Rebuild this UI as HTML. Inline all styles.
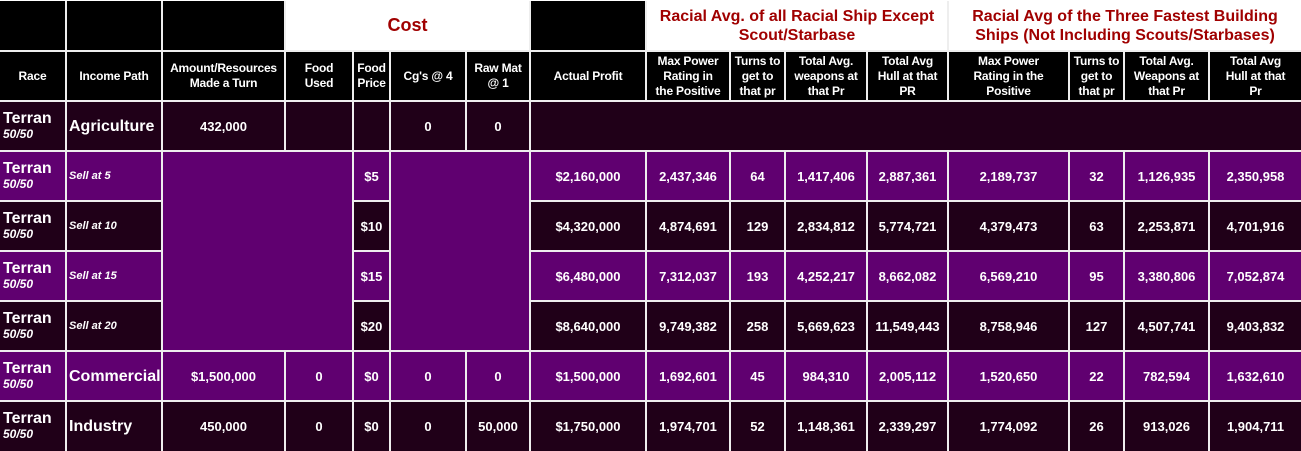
<!DOCTYPE html>
<html><head><meta charset="utf-8"><style>
html,body{margin:0;padding:0;background:#fff;width:1301px;height:451px;overflow:hidden}
.g{position:absolute;left:0;top:1px;display:grid;background:#eee;column-gap:2px;row-gap:2px;
grid-template-columns:65px 94px 121px 66px 35px 74px 62px 114px 82px 53px 80px 79px 119px 53px 83px 91px;
grid-template-rows:49px 48px 48px 48px 48px 48px 48px 48px 49px;
font-family:"Liberation Sans",Arial,sans-serif;font-weight:bold;color:#fff;font-size:13px}
.g>div{display:flex;align-items:center;justify-content:center;text-align:center;line-height:15px;overflow:hidden}
.k{background:#000;font-size:12px;letter-spacing:-0.2px;white-space:nowrap}
.w{background:#fff;color:#a00000 !important;font-size:16px;line-height:19px !important;letter-spacing:0}
.d{background:#200018}.p{background:#600070}
.r{flex-direction:column;align-items:flex-start !important;justify-content:flex-start !important;padding:8px 0 0 3px;text-align:left !important}
.r b{font-size:16px;line-height:17px}.r i{font-size:12px;font-weight:bold;line-height:15px}
.ip{justify-content:flex-start !important;padding-left:2px;font-size:16px}
.s{justify-content:flex-start !important;padding-left:2px;font-size:11px !important;font-style:italic}
</style></head><body>
<div class="g">
<div class="k"></div><div class="k"></div><div class="k"></div>
<div class="w" style="grid-column:4/8;font-size:18px">Cost</div>
<div class="k"></div>
<div class="w" style="grid-column:9/13">Racial Avg. of all Racial Ship Except<br>Scout/Starbase</div>
<div class="w" style="grid-column:13/17">Racial Avg of the Three Fastest Building<br>Ships (Not Including Scouts/Starbases)</div>

<div class="k">Race</div><div class="k">Income Path</div><div class="k">Amount/Resources<br>Made a Turn</div><div class="k">Food<br>Used</div><div class="k">Food<br>Price</div><div class="k">Cg's @ 4</div><div class="k">Raw Mat<br>@ 1</div><div class="k">Actual Profit</div>
<div class="k">Max Power<br>Rating in<br>the Positive</div><div class="k">Turns to<br>get to<br>that pr</div><div class="k">Total Avg.<br>weapons at<br>that Pr</div><div class="k">Total Avg<br>Hull at that<br>PR</div><div class="k">Max Power<br>Rating in the<br>Positive</div><div class="k">Turns to<br>get to<br>that pr</div><div class="k">Total Avg.<br>Weapons at<br>that Pr</div><div class="k">Total Avg<br>Hull at that<br>Pr</div>

<div class="d r"><b>Terran</b><i>50/50</i></div><div class="d ip">Agriculture</div><div class="d">432,000</div><div class="d"></div><div class="d"></div><div class="d">0</div><div class="d">0</div><div class="d" style="grid-column:8/17"></div>

<div class="p r" style="grid-row:4"><b>Terran</b><i>50/50</i></div><div class="p s" style="grid-row:4">Sell at 5</div>
<div class="p" style="grid-column:3/5;grid-row:4/8"></div><div class="p" style="grid-row:4;grid-column:5">$5</div>
<div class="p" style="grid-column:6/8;grid-row:4/8"></div>
<div class="p" style="grid-row:4;grid-column:8">$2,160,000</div><div class="p" style="grid-row:4">2,437,346</div><div class="p" style="grid-row:4">64</div><div class="p" style="grid-row:4">1,417,406</div><div class="p" style="grid-row:4">2,887,361</div><div class="p" style="grid-row:4">2,189,737</div><div class="p" style="grid-row:4">32</div><div class="p" style="grid-row:4">1,126,935</div><div class="p" style="grid-row:4">2,350,958</div>

<div class="d r" style="grid-row:5;grid-column:1"><b>Terran</b><i>50/50</i></div><div class="d s" style="grid-row:5;grid-column:2">Sell at 10</div><div class="d" style="grid-row:5;grid-column:5">$10</div>
<div class="d" style="grid-row:5;grid-column:8">$4,320,000</div><div class="d" style="grid-row:5">4,874,691</div><div class="d" style="grid-row:5">129</div><div class="d" style="grid-row:5">2,834,812</div><div class="d" style="grid-row:5">5,774,721</div><div class="d" style="grid-row:5">4,379,473</div><div class="d" style="grid-row:5">63</div><div class="d" style="grid-row:5">2,253,871</div><div class="d" style="grid-row:5">4,701,916</div>

<div class="p r" style="grid-row:6;grid-column:1"><b>Terran</b><i>50/50</i></div><div class="p s" style="grid-row:6;grid-column:2">Sell at 15</div><div class="p" style="grid-row:6;grid-column:5">$15</div>
<div class="p" style="grid-row:6;grid-column:8">$6,480,000</div><div class="p" style="grid-row:6">7,312,037</div><div class="p" style="grid-row:6">193</div><div class="p" style="grid-row:6">4,252,217</div><div class="p" style="grid-row:6">8,662,082</div><div class="p" style="grid-row:6">6,569,210</div><div class="p" style="grid-row:6">95</div><div class="p" style="grid-row:6">3,380,806</div><div class="p" style="grid-row:6">7,052,874</div>

<div class="d r" style="grid-row:7;grid-column:1"><b>Terran</b><i>50/50</i></div><div class="d s" style="grid-row:7;grid-column:2">Sell at 20</div><div class="d" style="grid-row:7;grid-column:5">$20</div>
<div class="d" style="grid-row:7;grid-column:8">$8,640,000</div><div class="d" style="grid-row:7">9,749,382</div><div class="d" style="grid-row:7">258</div><div class="d" style="grid-row:7">5,669,623</div><div class="d" style="grid-row:7">11,549,443</div><div class="d" style="grid-row:7">8,758,946</div><div class="d" style="grid-row:7">127</div><div class="d" style="grid-row:7">4,507,741</div><div class="d" style="grid-row:7">9,403,832</div>

<div class="p r" style="grid-row:8;grid-column:1"><b>Terran</b><i>50/50</i></div><div class="p ip" style="grid-row:8">Commercial</div><div class="p" style="grid-row:8">$1,500,000</div><div class="p" style="grid-row:8">0</div><div class="p" style="grid-row:8">$0</div><div class="p" style="grid-row:8">0</div><div class="p" style="grid-row:8">0</div><div class="p" style="grid-row:8">$1,500,000</div><div class="p" style="grid-row:8">1,692,601</div><div class="p" style="grid-row:8">45</div><div class="p" style="grid-row:8">984,310</div><div class="p" style="grid-row:8">2,005,112</div><div class="p" style="grid-row:8">1,520,650</div><div class="p" style="grid-row:8">22</div><div class="p" style="grid-row:8">782,594</div><div class="p" style="grid-row:8">1,632,610</div>

<div class="d r" style="grid-row:9;grid-column:1"><b>Terran</b><i>50/50</i></div><div class="d ip" style="grid-row:9">Industry</div><div class="d" style="grid-row:9">450,000</div><div class="d" style="grid-row:9">0</div><div class="d" style="grid-row:9">$0</div><div class="d" style="grid-row:9">0</div><div class="d" style="grid-row:9">50,000</div><div class="d" style="grid-row:9">$1,750,000</div><div class="d" style="grid-row:9">1,974,701</div><div class="d" style="grid-row:9">52</div><div class="d" style="grid-row:9">1,148,361</div><div class="d" style="grid-row:9">2,339,297</div><div class="d" style="grid-row:9">1,774,092</div><div class="d" style="grid-row:9">26</div><div class="d" style="grid-row:9">913,026</div><div class="d" style="grid-row:9">1,904,711</div>
</div>
</body></html>
